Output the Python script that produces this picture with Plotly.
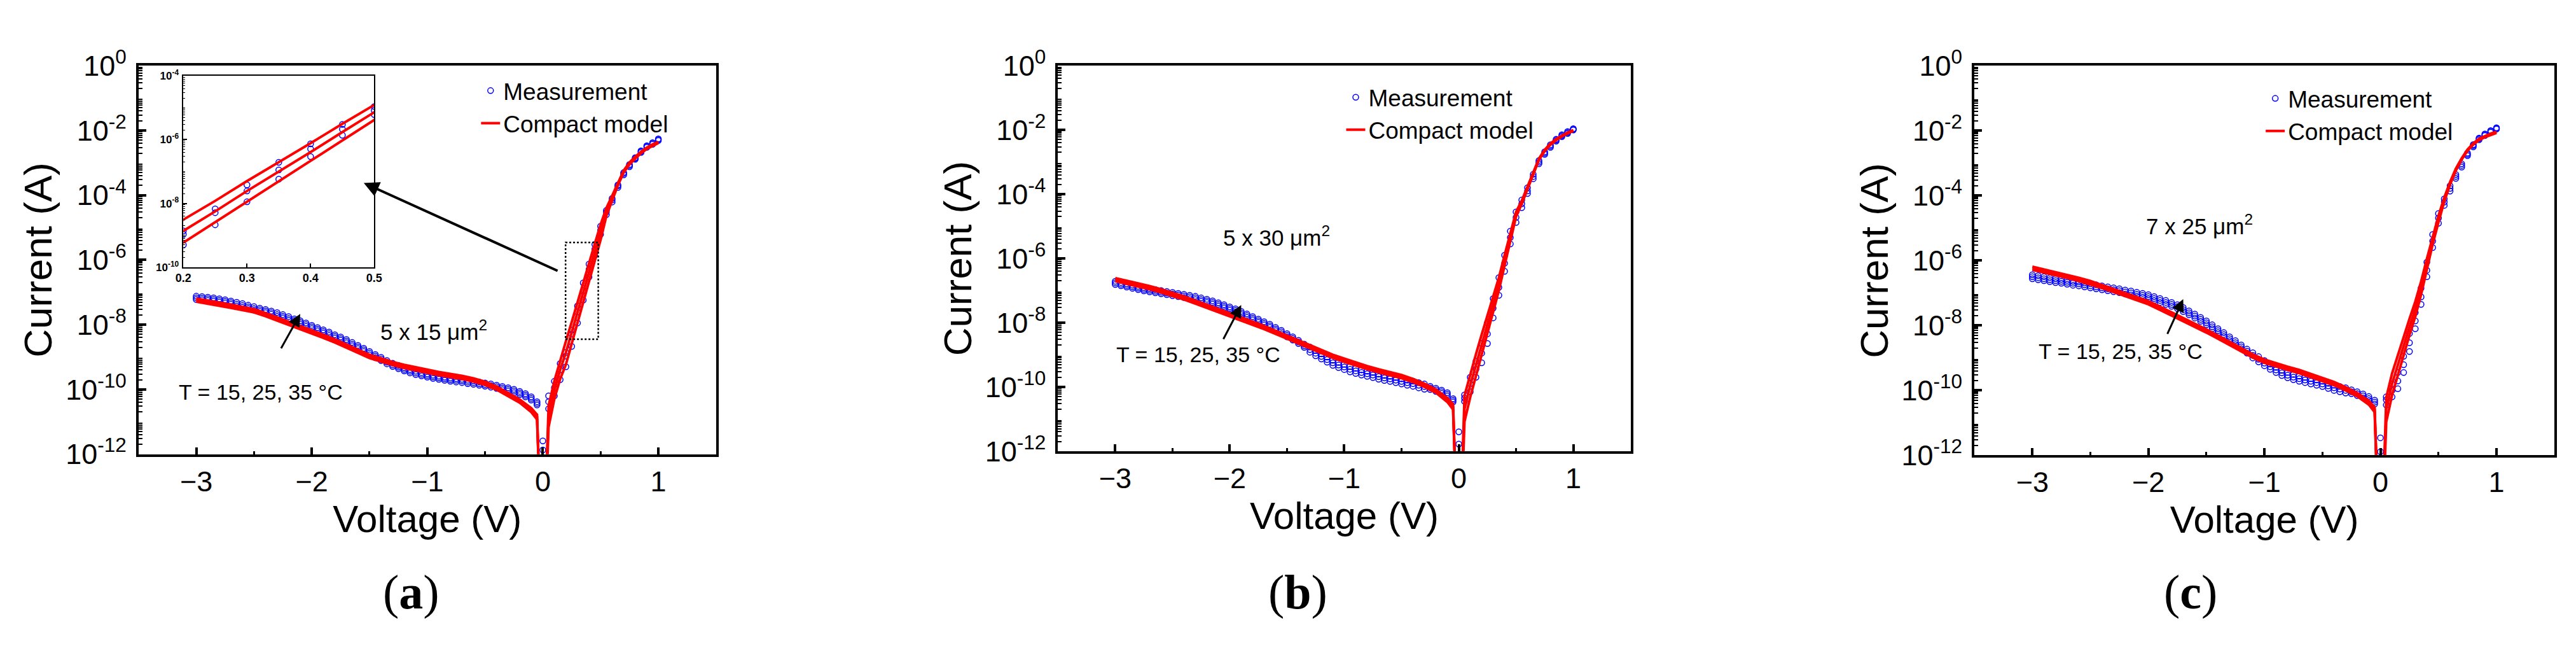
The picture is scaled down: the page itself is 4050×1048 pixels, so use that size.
import plotly.graph_objects as go

# Voltage sweep of the measurement (V)
V_MEAS = [
    -3.00, -2.95, -2.90, -2.85, -2.80, -2.75, -2.70, -2.65, -2.60, -2.55,
    -2.50, -2.45, -2.40, -2.35, -2.30, -2.25, -2.20, -2.15, -2.10, -2.05,
    -2.00, -1.95, -1.90, -1.85, -1.80, -1.75, -1.70, -1.65, -1.60, -1.55,
    -1.50, -1.45, -1.40, -1.35, -1.30, -1.25, -1.20, -1.15, -1.10, -1.05,
    -1.00, -0.95, -0.90, -0.85, -0.80, -0.75, -0.70, -0.65, -0.60, -0.55,
    -0.50, -0.45, -0.40, -0.35, -0.30, -0.25, -0.20, -0.15, -0.10, -0.05,
    0.00,
    0.05, 0.10, 0.15, 0.20, 0.25, 0.30, 0.35, 0.40, 0.45, 0.50,
    0.55, 0.60, 0.65, 0.70, 0.75, 0.80, 0.85, 0.90, 0.95, 1.00,
]

# Voltage points of the compact model curves (V)
V_MODEL = [
    -3.0, -2.9, -2.8, -2.7, -2.6, -2.5, -2.4, -2.3, -2.2, -2.1,
    -2.0, -1.9, -1.8, -1.7, -1.6, -1.5, -1.4, -1.3, -1.2, -1.1,
    -1.0, -0.9, -0.8, -0.7, -0.6, -0.5, -0.4, -0.3, -0.2, -0.1,
    -0.05, 0.0,
    0.05, 0.10, 0.15, 0.20, 0.25, 0.30, 0.35, 0.40, 0.45, 0.50,
    0.55, 0.60, 0.65, 0.70, 0.75, 0.80, 0.85, 0.90, 0.95, 1.00,
]

# log10 |I| (A), measurement, panel (a) 5 x 15 um2
A_MEAS_15 = [
    -7.22, -7.23, -7.25, -7.27, -7.30, -7.33, -7.37, -7.42, -7.46, -7.50,
    -7.55, -7.59, -7.63, -7.68, -7.74, -7.79, -7.86, -7.92, -7.98, -8.05,
    -8.12, -8.19, -8.26, -8.33, -8.41, -8.48, -8.56, -8.65, -8.74, -8.83,
    -8.93, -9.02, -9.11, -9.21, -9.29, -9.36, -9.43, -9.49, -9.54, -9.58,
    -9.62, -9.66, -9.69, -9.72, -9.75, -9.77, -9.79, -9.82, -9.84, -9.87,
    -9.90, -9.93, -9.97, -10.01, -10.05, -10.10, -10.16, -10.23, -10.33, -10.48,
    -12.30,
    -10.60, -10.20, -9.70, -9.30, -8.67, -7.95, -7.24, -6.53, -5.86, -5.21,
    -4.60, -4.21, -3.76, -3.37, -3.12, -2.89, -2.68, -2.52, -2.43, -2.31,
]
A_MEAS_25 = [
    -7.17, -7.18, -7.20, -7.22, -7.25, -7.28, -7.32, -7.37, -7.41, -7.45,
    -7.50, -7.54, -7.58, -7.63, -7.69, -7.74, -7.81, -7.87, -7.93, -8.00,
    -8.07, -8.14, -8.21, -8.28, -8.36, -8.43, -8.51, -8.60, -8.69, -8.78,
    -8.88, -8.97, -9.06, -9.16, -9.24, -9.31, -9.38, -9.44, -9.49, -9.53,
    -9.57, -9.61, -9.64, -9.67, -9.70, -9.72, -9.74, -9.77, -9.79, -9.82,
    -9.85, -9.88, -9.92, -9.96, -10.00, -10.05, -10.11, -10.18, -10.28, -10.43,
    -11.87,
    -10.38, -9.95, -9.40, -8.97, -8.29, -7.61, -6.95, -6.29, -5.67, -5.08,
    -4.52, -4.15, -3.71, -3.33, -3.08, -2.86, -2.65, -2.49, -2.40, -2.28,
]
A_MEAS_35 = [
    -7.12, -7.13, -7.15, -7.17, -7.20, -7.23, -7.27, -7.31, -7.35, -7.40,
    -7.44, -7.49, -7.53, -7.58, -7.63, -7.69, -7.75, -7.82, -7.88, -7.95,
    -8.02, -8.09, -8.16, -8.23, -8.31, -8.38, -8.46, -8.55, -8.64, -8.73,
    -8.83, -8.92, -9.01, -9.11, -9.19, -9.26, -9.33, -9.39, -9.44, -9.48,
    -9.52, -9.56, -9.59, -9.62, -9.65, -9.67, -9.69, -9.72, -9.74, -9.77,
    -9.80, -9.83, -9.87, -9.91, -9.95, -10.00, -10.06, -10.13, -10.23, -10.38,
    -11.59,
    -10.20, -9.75, -9.20, -8.86, -8.17, -7.42, -6.71, -6.13, -5.52, -4.96,
    -4.47, -4.10, -3.68, -3.30, -3.05, -2.84, -2.63, -2.47, -2.38, -2.26,
]

# log10 |I| (A), compact model, panel (a)
A_MODEL_15 = [
    -7.29, -7.35, -7.41, -7.48, -7.55, -7.62, -7.74, -7.87, -8.01, -8.14,
    -8.28, -8.41, -8.55, -8.70, -8.87, -9.03, -9.15, -9.25, -9.34, -9.42,
    -9.50, -9.56, -9.62, -9.68, -9.76, -9.86, -10.01, -10.20, -10.41, -10.70,
    -10.93, -16.0,
    -11.16, -10.29, -9.68, -9.23, -8.59, -7.94, -7.31, -6.66, -6.02, -5.38,
    -4.64, -4.14, -3.69, -3.30, -3.05, -2.87, -2.70, -2.57, -2.47, -2.39,
]
A_MODEL_25 = [
    -7.24, -7.30, -7.36, -7.43, -7.50, -7.57, -7.69, -7.82, -7.96, -8.09,
    -8.23, -8.36, -8.50, -8.65, -8.82, -8.98, -9.10, -9.20, -9.29, -9.37,
    -9.45, -9.51, -9.57, -9.63, -9.71, -9.81, -9.96, -10.15, -10.36, -10.64,
    -10.85, -16.0,
    -10.83, -10.01, -9.40, -8.86, -8.25, -7.61, -7.01, -6.39, -5.76, -5.15,
    -4.52, -4.08, -3.65, -3.27, -3.02, -2.84, -2.68, -2.55, -2.45, -2.37,
]
A_MODEL_35 = [
    -7.19, -7.25, -7.31, -7.38, -7.45, -7.52, -7.64, -7.77, -7.91, -8.04,
    -8.18, -8.31, -8.45, -8.60, -8.77, -8.93, -9.05, -9.15, -9.24, -9.32,
    -9.40, -9.46, -9.52, -9.58, -9.66, -9.76, -9.91, -10.10, -10.31, -10.58,
    -10.78, -16.0,
    -10.50, -9.74, -9.10, -8.51, -7.92, -7.30, -6.71, -6.11, -5.50, -4.91,
    -4.40, -4.02, -3.61, -3.24, -2.99, -2.81, -2.66, -2.53, -2.43, -2.35,
]

# panel (b) 5 x 30 um2
B_MEAS_15 = [
    -6.81, -6.85, -6.89, -6.93, -6.97, -7.01, -7.04, -7.07, -7.10, -7.13,
    -7.16, -7.19, -7.22, -7.25, -7.28, -7.33, -7.37, -7.42, -7.48, -7.54,
    -7.61, -7.67, -7.75, -7.83, -7.91, -7.99, -8.07, -8.15, -8.25, -8.34,
    -8.44, -8.54, -8.65, -8.77, -8.92, -9.03, -9.13, -9.23, -9.33, -9.40,
    -9.46, -9.53, -9.58, -9.63, -9.67, -9.71, -9.76, -9.80, -9.83, -9.87,
    -9.91, -9.95, -9.98, -10.03, -10.07, -10.08, -10.14, -10.20, -10.28, -10.47,
    -12.20,
    -10.45, -10.15, -9.70, -9.25, -8.65, -7.85, -7.15, -6.40, -5.55, -4.88,
    -4.42, -3.98, -3.52, -3.05, -2.76, -2.54, -2.35, -2.21, -2.11, -2.00,
]
B_MEAS_25 = [
    -6.76, -6.80, -6.84, -6.88, -6.92, -6.96, -6.99, -7.02, -7.05, -7.08,
    -7.11, -7.14, -7.17, -7.20, -7.23, -7.28, -7.32, -7.37, -7.43, -7.49,
    -7.56, -7.62, -7.70, -7.78, -7.86, -7.94, -8.02, -8.10, -8.20, -8.29,
    -8.39, -8.49, -8.60, -8.72, -8.84, -8.95, -9.05, -9.15, -9.25, -9.32,
    -9.38, -9.45, -9.50, -9.55, -9.59, -9.63, -9.68, -9.72, -9.75, -9.79,
    -9.83, -9.87, -9.90, -9.95, -9.99, -10.03, -10.09, -10.15, -10.23, -10.42,
    -11.78,
    -10.35, -9.90, -9.45, -8.95, -8.35, -7.55, -6.90, -6.15, -5.35, -4.72,
    -4.30, -3.90, -3.45, -3.00, -2.72, -2.50, -2.32, -2.18, -2.08, -1.98,
]
B_MEAS_35 = [
    -6.71, -6.75, -6.79, -6.83, -6.87, -6.91, -6.94, -6.97, -7.00, -7.03,
    -7.06, -7.09, -7.12, -7.15, -7.18, -7.23, -7.27, -7.32, -7.38, -7.44,
    -7.51, -7.57, -7.65, -7.73, -7.81, -7.89, -7.97, -8.05, -8.15, -8.24,
    -8.34, -8.44, -8.55, -8.67, -8.76, -8.87, -8.97, -9.07, -9.17, -9.24,
    -9.30, -9.37, -9.42, -9.47, -9.51, -9.55, -9.60, -9.64, -9.67, -9.71,
    -9.75, -9.79, -9.82, -9.87, -9.91, -9.98, -10.04, -10.10, -10.18, -10.37,
    -11.40,
    -10.25, -9.70, -9.20, -8.65, -8.00, -7.25, -6.60, -5.90, -5.15, -4.55,
    -4.18, -3.80, -3.38, -2.95, -2.68, -2.46, -2.29, -2.15, -2.05, -1.96,
]
B_MODEL_15 = [
    -6.71, -6.79, -6.87, -6.96, -7.06, -7.16, -7.28, -7.41, -7.54, -7.67,
    -7.81, -7.93, -8.06, -8.20, -8.35, -8.50, -8.66, -8.82, -8.97, -9.10,
    -9.22, -9.34, -9.45, -9.55, -9.64, -9.73, -9.85, -10.00, -10.18, -10.47,
    -10.70, -16.0,
    -11.08, -10.32, -9.66, -9.00, -8.33, -7.67, -7.00, -6.22, -5.42, -4.70,
    -4.30, -3.83, -3.39, -2.93, -2.66, -2.46, -2.32, -2.20, -2.11, -2.03,
]
B_MODEL_25 = [
    -6.66, -6.74, -6.82, -6.91, -7.01, -7.11, -7.23, -7.36, -7.49, -7.62,
    -7.76, -7.88, -8.01, -8.15, -8.30, -8.45, -8.61, -8.77, -8.92, -9.05,
    -9.17, -9.29, -9.40, -9.50, -9.59, -9.68, -9.80, -9.95, -10.13, -10.41,
    -10.62, -16.0,
    -10.68, -9.95, -9.32, -8.68, -8.05, -7.42, -6.80, -6.05, -5.30, -4.62,
    -4.25, -3.80, -3.36, -2.91, -2.64, -2.44, -2.30, -2.18, -2.09, -2.01,
]
B_MODEL_35 = [
    -6.61, -6.69, -6.77, -6.86, -6.96, -7.06, -7.18, -7.31, -7.44, -7.57,
    -7.71, -7.83, -7.96, -8.10, -8.25, -8.40, -8.56, -8.72, -8.87, -9.00,
    -9.12, -9.24, -9.35, -9.45, -9.54, -9.63, -9.75, -9.90, -10.08, -10.35,
    -10.54, -16.0,
    -10.27, -9.60, -8.98, -8.37, -7.78, -7.18, -6.60, -5.90, -5.20, -4.55,
    -4.20, -3.77, -3.33, -2.89, -2.62, -2.42, -2.28, -2.17, -2.08, -2.00,
]

# panel (c) 7 x 25 um2
C_MEAS_15 = [
    -6.56, -6.59, -6.62, -6.65, -6.68, -6.70, -6.73, -6.76, -6.78, -6.81,
    -6.84, -6.87, -6.90, -6.93, -6.96, -6.99, -7.03, -7.06, -7.10, -7.13,
    -7.17, -7.23, -7.29, -7.35, -7.41, -7.48, -7.57, -7.67, -7.77, -7.87,
    -7.98, -8.10, -8.22, -8.34, -8.47, -8.59, -8.72, -8.85, -9.00, -9.12,
    -9.24, -9.35, -9.45, -9.54, -9.61, -9.67, -9.72, -9.76, -9.80, -9.84,
    -9.88, -9.94, -10.00, -10.04, -10.08, -10.10, -10.16, -10.23, -10.31, -10.42,
    -12.30,
    -10.45, -10.20, -9.95, -9.45, -8.80, -8.10, -7.35, -6.50, -5.60, -4.85,
    -4.30, -3.86, -3.47, -3.12, -2.77, -2.50, -2.28, -2.15, -2.05, -1.95,
]
C_MEAS_25 = [
    -6.50, -6.53, -6.56, -6.59, -6.62, -6.64, -6.67, -6.70, -6.72, -6.75,
    -6.78, -6.81, -6.84, -6.87, -6.90, -6.93, -6.97, -7.00, -7.04, -7.07,
    -7.11, -7.17, -7.23, -7.29, -7.35, -7.42, -7.51, -7.61, -7.71, -7.81,
    -7.92, -8.04, -8.16, -8.28, -8.41, -8.53, -8.66, -8.79, -8.92, -9.04,
    -9.16, -9.27, -9.37, -9.46, -9.53, -9.59, -9.64, -9.68, -9.72, -9.76,
    -9.80, -9.86, -9.92, -9.96, -10.00, -10.04, -10.10, -10.17, -10.25, -10.36,
    -11.89,
    -10.29, -10.00, -9.71, -9.21, -8.53, -7.86, -7.12, -6.30, -5.40, -4.69,
    -4.20, -3.78, -3.41, -3.07, -2.73, -2.46, -2.25, -2.12, -2.02, -1.93,
]
C_MEAS_35 = [
    -6.44, -6.47, -6.50, -6.53, -6.56, -6.58, -6.61, -6.64, -6.66, -6.69,
    -6.72, -6.75, -6.78, -6.81, -6.84, -6.87, -6.91, -6.94, -6.98, -7.01,
    -7.05, -7.11, -7.17, -7.23, -7.29, -7.36, -7.45, -7.55, -7.65, -7.75,
    -7.86, -7.98, -8.10, -8.22, -8.35, -8.47, -8.60, -8.73, -8.84, -8.96,
    -9.08, -9.19, -9.29, -9.38, -9.45, -9.51, -9.56, -9.60, -9.64, -9.68,
    -9.72, -9.78, -9.84, -9.88, -9.92, -9.98, -10.04, -10.11, -10.19, -10.30,
    -11.46,
    -10.20, -9.80, -9.45, -8.95, -8.25, -7.60, -6.85, -6.05, -5.20, -4.55,
    -4.10, -3.70, -3.35, -3.02, -2.69, -2.43, -2.23, -2.10, -2.00, -1.91,
]
C_MODEL_15 = [
    -6.29, -6.37, -6.45, -6.54, -6.63, -6.73, -6.85, -6.97, -7.09, -7.22,
    -7.35, -7.52, -7.69, -7.87, -8.04, -8.22, -8.41, -8.61, -8.81, -8.99,
    -9.15, -9.27, -9.37, -9.47, -9.60, -9.71, -9.84, -10.00, -10.18, -10.44,
    -10.67, -16.0,
    -10.97, -10.15, -9.52, -8.88, -8.30, -7.73, -7.05, -6.28, -5.50, -4.82,
    -4.18, -3.66, -3.23, -2.89, -2.62, -2.43, -2.29, -2.20, -2.13, -2.07,
]
C_MODEL_25 = [
    -6.24, -6.32, -6.40, -6.49, -6.58, -6.68, -6.80, -6.92, -7.04, -7.17,
    -7.30, -7.47, -7.64, -7.82, -7.99, -8.17, -8.36, -8.56, -8.76, -8.94,
    -9.10, -9.22, -9.32, -9.42, -9.55, -9.66, -9.79, -9.95, -10.13, -10.38,
    -10.59, -16.0,
    -10.56, -9.80, -9.20, -8.60, -8.05, -7.50, -6.85, -6.12, -5.38, -4.72,
    -4.12, -3.62, -3.20, -2.87, -2.60, -2.41, -2.27, -2.18, -2.11, -2.05,
]
C_MODEL_35 = [
    -6.19, -6.27, -6.35, -6.44, -6.53, -6.63, -6.75, -6.87, -6.99, -7.12,
    -7.25, -7.42, -7.59, -7.77, -7.94, -8.12, -8.31, -8.51, -8.71, -8.89,
    -9.05, -9.17, -9.27, -9.37, -9.50, -9.61, -9.74, -9.90, -10.08, -10.32,
    -10.52, -16.0,
    -10.22, -9.48, -8.90, -8.33, -7.80, -7.27, -6.65, -5.95, -5.25, -4.62,
    -4.06, -3.58, -3.17, -2.85, -2.58, -2.39, -2.25, -2.16, -2.09, -2.03,
]

PANEL_LABELS = ["a", "b", "c"]
AREA_TEXT = ["5 x 15 μm<sup>2</sup>", "5 x 30 μm<sup>2</sup>", "7 x 25 μm<sup>2</sup>"]
TEMP_TEXT = "T = 15, 25, 35 °C"
X_TICKS = [-3, -2, -1, 0, 1]
INSET_X_TICKS = [0.2, 0.3, 0.4, 0.5]

for arr in [A_MEAS_15, A_MEAS_25, A_MEAS_35, B_MEAS_15, B_MEAS_25, B_MEAS_35,
            C_MEAS_15, C_MEAS_25, C_MEAS_35]:
    assert len(arr) == len(V_MEAS)
for arr in [A_MODEL_15, A_MODEL_25, A_MODEL_35, B_MODEL_15, B_MODEL_25, B_MODEL_35,
            C_MODEL_15, C_MODEL_25, C_MODEL_35]:
    assert len(arr) == len(V_MODEL)

FONT = "Liberation Sans, Arial, sans-serif"
BLUE = "#0000ff"
RED = "#ff0000"
W, H = 4050, 1048

# pixel boxes of the three plots and of the inset: (left, right, top, bottom)
boxes = [(198, 1112, 67, 713), (1653, 2559, 67, 708), (3103, 4021, 67, 715)]
inset_box = (269, 571, 84, 402)

panels = [
    ((A_MEAS_15, A_MEAS_25, A_MEAS_35), (A_MODEL_15, A_MODEL_25, A_MODEL_35)),
    ((B_MEAS_15, B_MEAS_25, B_MEAS_35), (B_MODEL_15, B_MODEL_25, B_MODEL_35)),
    ((C_MEAS_15, C_MEAS_25, C_MEAS_35), (C_MODEL_15, C_MODEL_25, C_MODEL_35)),
]


def to_amp(logs):
    return [10 ** v for v in logs]


def xdom(b):
    return [b[0] / W, b[1] / W]


def ydom(b):
    return [1 - b[3] / H, 1 - b[2] / H]


fig = go.Figure()

legends = ["legend", "legend2", "legend3"]
for k, (meas, model) in enumerate(panels):
    sfx = "" if k == 0 else str(k + 1)
    for i, ys in enumerate(meas):
        fig.add_trace(go.Scatter(
            x=V_MEAS, y=to_amp(ys), mode="markers", name="Measurement",
            marker=dict(symbol="circle-open", size=9, color=BLUE, line=dict(width=1.5)),
            showlegend=(i == 0), legend=legends[k], xaxis="x" + sfx, yaxis="y" + sfx))
    for i, ys in enumerate(model):
        fig.add_trace(go.Scatter(
            x=V_MODEL, y=to_amp(ys), mode="lines", name="Compact model",
            line=dict(color=RED, width=4),
            showlegend=(i == 0), legend=legends[k], xaxis="x" + sfx, yaxis="y" + sfx))

# inset of panel (a): zoom on 0.2 - 0.5 V
for ys in panels[0][0]:
    fig.add_trace(go.Scatter(
        x=V_MEAS, y=to_amp(ys), mode="markers", showlegend=False,
        marker=dict(symbol="circle-open", size=9, color=BLUE, line=dict(width=1.5)),
        xaxis="x4", yaxis="y4"))
for ys in panels[0][1]:
    fig.add_trace(go.Scatter(
        x=V_MODEL, y=to_amp(ys), mode="lines", showlegend=False,
        line=dict(color=RED, width=4), xaxis="x4", yaxis="y4"))

even_decades = list(range(-12, 1, 2))
odd_decades = list(range(-11, 0, 2))
y_minor = [m * 10.0 ** e for e in range(-12, 0) for m in range(2, 10)]

layout = dict(
    width=W, height=H, autosize=False,
    margin=dict(l=0, r=0, t=0, b=0),
    paper_bgcolor="white", plot_bgcolor="white",
    font=dict(family=FONT, color="black"),
)

for k, b in enumerate(boxes):
    sfx = "" if k == 0 else str(k + 1)
    layout["xaxis" + sfx] = dict(
        domain=xdom(b), anchor="y" + sfx, range=[-3.5, 1.5],
        showline=True, linewidth=4, linecolor="black", mirror=True,
        showgrid=False, zeroline=False,
        ticks="inside", ticklen=11, tickwidth=4, tickcolor="black",
        tickmode="array", tickvals=X_TICKS, tickfont=dict(size=45),
        minor=dict(tickmode="array", tickvals=[-2.5, -1.5, -0.5, 0.5], ticks="inside",
                   ticklen=5, tickwidth=3, tickcolor="black"),
        title=dict(text="Voltage (V)", font=dict(size=60), standoff=6),
    )
    layout["yaxis" + sfx] = dict(
        domain=ydom(b), anchor="x" + sfx, type="log", range=[-12, 0],
        showline=True, linewidth=4, linecolor="black", mirror=True,
        showgrid=False, zeroline=False,
        ticks="inside", ticklen=12, tickwidth=4, tickcolor="black",
        tickmode="array", tickvals=[10.0 ** e for e in even_decades],
        ticktext=["10<sup>%d</sup>" % e for e in even_decades],
        tickfont=dict(size=45), ticklabelstandoff=6,
        minor=dict(tickmode="array", tickvals=y_minor, ticks="inside",
                   ticklen=6, tickwidth=2, tickcolor="black"),
        title=dict(text="Current (A)", font=dict(size=62), standoff=2),
    )
    # unlabelled odd-decade ticks, same length as the labelled ones
    layout["yaxis" + str(k + 5)] = dict(
        overlaying="y" + sfx, anchor="x" + sfx, side="left", type="log", range=[-12, 0],
        showline=False, showgrid=False, zeroline=False, showticklabels=False,
        ticks="inside", ticklen=12, tickwidth=4, tickcolor="black",
        tickmode="array", tickvals=[10.0 ** e for e in odd_decades],
    )

inset_even = [-10, -8, -6, -4]
layout["xaxis4"] = dict(
    domain=xdom(inset_box), anchor="y4", range=[0.2, 0.5],
    showline=True, linewidth=1.5, linecolor="black", mirror=True,
    showgrid=False, zeroline=False,
    ticks="inside", ticklen=6, tickwidth=1.5, tickcolor="black",
    tickmode="array", tickvals=INSET_X_TICKS, ticktext=["0.2", "0.3", "0.4", "0.5"],
    tickfont=dict(size=18, weight="bold"),
)
layout["yaxis4"] = dict(
    domain=ydom(inset_box), anchor="x4", type="log", range=[-10, -4],
    showline=True, linewidth=1.5, linecolor="black", mirror=True,
    showgrid=False, zeroline=False,
    ticks="inside", ticklen=6, tickwidth=1.5, tickcolor="black",
    tickmode="array", tickvals=[10.0 ** e for e in inset_even],
    ticktext=["10<sup>%d</sup>" % e for e in inset_even],
    tickfont=dict(size=17, weight="bold"), ticklabelstandoff=2,
    minor=dict(tickmode="array",
               tickvals=[m * 10.0 ** e for e in range(-10, -4) for m in range(1, 10)
                         if not (m == 1 and e in inset_even)],
               ticks="inside", ticklen=3, tickwidth=1, tickcolor="black"),
)

# legends, one per plot
leg_pos = [(735, 76), (2104, 87), (3559, 89)]
for k, (lx, ly) in enumerate(leg_pos):
    layout[legends[k]] = dict(
        x=lx / W, y=1 - ly / H, xanchor="left", yanchor="top",
        font=dict(size=37, family=FONT), bgcolor="rgba(0,0,0,0)",
        borderwidth=0, tracegroupgap=0, itemwidth=30,
    )

fig.update_layout(**layout)

# text in the plots: (x, log10 y) in data units of each plot
area_pos = [(-1.42, -8.17), (-2.07, -5.31), (-2.03, -4.89)]
temp_pos = [(-3.16, -10.09), (-3.0, -8.99), (-2.96, -8.79)]
# small arrows: (tail x, tail log y, head x, head log y)
temp_arrows = [(-2.27, -8.76, -2.10, -7.67), (-2.06, -8.54, -1.90, -7.45),
               (-1.84, -8.29, -1.70, -7.19)]
label_x = [583, 2033, 3489]

for k in range(3):
    sfx = "" if k == 0 else str(k + 1)
    xr, yr = "x" + sfx, "y" + sfx
    fig.add_annotation(x=area_pos[k][0], y=area_pos[k][1], xref=xr, yref=yr,
                       text=AREA_TEXT[k], showarrow=False, xanchor="left",
                       font=dict(size=35))
    fig.add_annotation(x=temp_pos[k][0], y=temp_pos[k][1], xref=xr, yref=yr,
                       text=TEMP_TEXT, showarrow=False, xanchor="left",
                       font=dict(size=34))
    tx, ty, hx, hy = temp_arrows[k]
    fig.add_annotation(x=hx, y=hy, ax=tx, ay=ty, xref=xr, yref=yr, axref=xr, ayref=yr,
                       text="", showarrow=True, arrowhead=2, arrowsize=1.3,
                       arrowwidth=3, arrowcolor="black")
    fig.add_annotation(x=label_x[k] / W, y=1 - 990 / H, xref="paper", yref="paper",
                       text="(<b>%s</b>)" % PANEL_LABELS[k], showarrow=False,
                       font=dict(size=76, family="Liberation Serif, Times New Roman, serif"))

# arrow from the zoom box to the inset
fig.add_annotation(x=-1.55, y=-3.62, ax=0.136, ay=-6.35, xref="x", yref="y",
                   axref="x", ayref="y", text="", showarrow=True, arrowhead=2,
                   arrowsize=1.2, arrowwidth=4, arrowcolor="black")

# dotted zoom box in panel (a)
fig.add_shape(type="rect", xref="x", yref="y domain", x0=0.197, x1=0.48,
              y0=(12 - 8.45) / 12, y1=(12 - 5.46) / 12,
              line=dict(color="black", width=2.5, dash="dot"))

fig.write_html("out.html")
